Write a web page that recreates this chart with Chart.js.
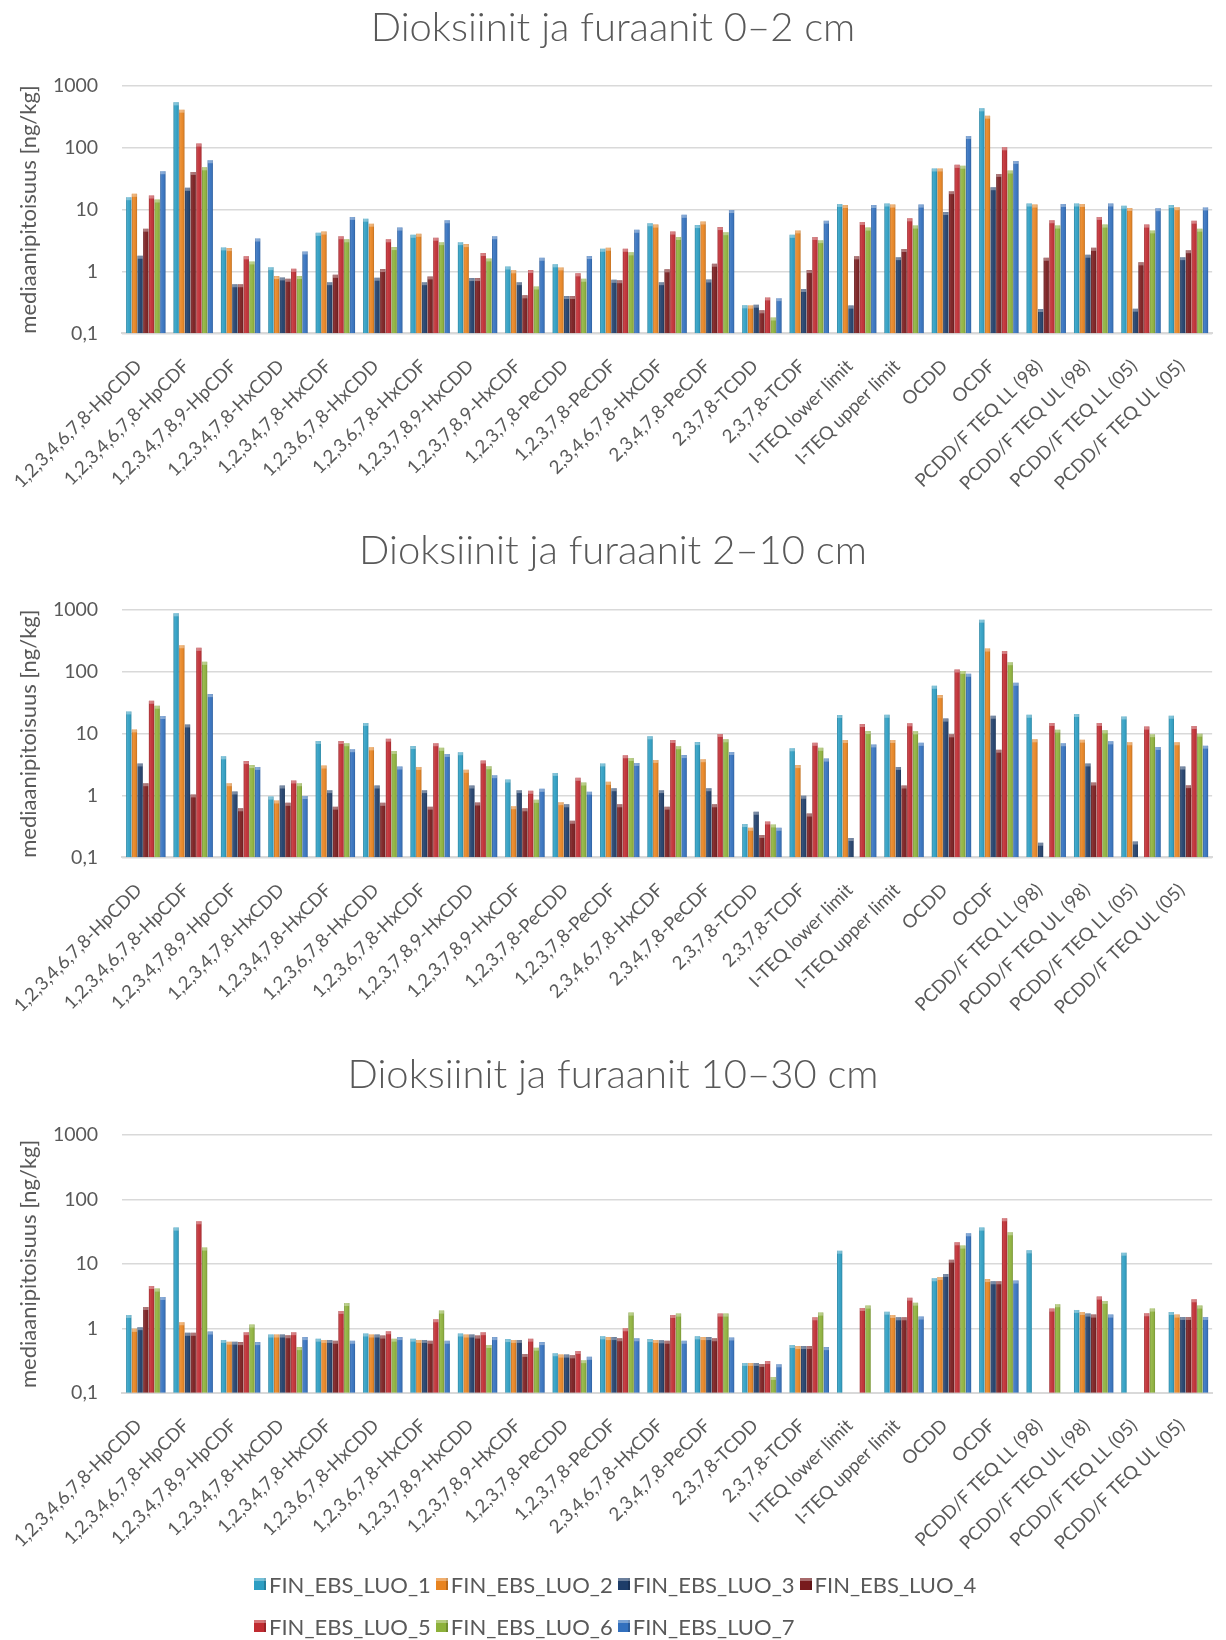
<!DOCTYPE html>
<html>
<head>
<meta charset="utf-8">
<script src="https://cdn.jsdelivr.net/npm/chart.js@4.4.0/dist/chart.umd.min.js"></script>
<style>
  html, body { margin: 0; padding: 0; background: #ffffff; }
  body { width: 1226px; height: 1640px; position: relative; overflow: hidden; font-family: Lato, "Open Sans", sans-serif; }
  canvas { position: absolute; left: 0; }
  #legend { position: absolute; left: 254px; top: 1563px; width: 800px; color: #595959; font-size: 22px; }
  .row { display: flex; height: 42px; align-items: center; }
  .item { display: flex; align-items: center; margin-right: 5px; white-space: nowrap; }
  .sw { width: 12px; height: 12px; margin-right: 3px; box-shadow: inset 0 3px 0 rgba(255,255,255,0.35), inset -2px 0 0 rgba(0,0,0,0.2); }
</style>
</head>
<body>
<canvas id="c1" width="1226" height="523" style="top:0px"></canvas>
<canvas id="c2" width="1226" height="524" style="top:523px"></canvas>
<canvas id="c3" width="1226" height="518" style="top:1047px"></canvas>
<div id="legend"></div>
<script>
// Congener / TEQ categories on the x axis
const categories = [
  '1,2,3,4,6,7,8-HpCDD', '1,2,3,4,6,7,8-HpCDF', '1,2,3,4,7,8,9-HpCDF', '1,2,3,4,7,8-HxCDD',
  '1,2,3,4,7,8-HxCDF', '1,2,3,6,7,8-HxCDD', '1,2,3,6,7,8-HxCDF', '1,2,3,7,8,9-HxCDD',
  '1,2,3,7,8,9-HxCDF', '1,2,3,7,8-PeCDD', '1,2,3,7,8-PeCDF', '2,3,4,6,7,8-HxCDF',
  '2,3,4,7,8-PeCDF', '2,3,7,8-TCDD', '2,3,7,8-TCDF', 'I-TEQ lower limit', 'I-TEQ upper limit',
  'OCDD', 'OCDF', 'PCDD/F TEQ LL (98)', 'PCDD/F TEQ UL (98)', 'PCDD/F TEQ LL (05)', 'PCDD/F TEQ UL (05)'
];

const seriesNames = ['FIN_EBS_LUO_1', 'FIN_EBS_LUO_2', 'FIN_EBS_LUO_3', 'FIN_EBS_LUO_4',
                     'FIN_EBS_LUO_5', 'FIN_EBS_LUO_6', 'FIN_EBS_LUO_7'];
const seriesColors = ['#2C9EC3', '#E8831F', '#1E3D69', '#781B1D', '#C02B31', '#8DB13A', '#3270BE'];

const yTickValues = [0.1, 1, 10, 100, 1000];
const yTickLabels = ['0,1', '1', '10', '100', '1000'];

// Median concentrations, depth 0–2 cm (ng/kg)
const d0_2_luo1 = [15.8, 538, 2.44, 1.17, 4.2, 7.1, 3.9, 2.97, 1.2, 1.3, 2.32, 6.0, 5.6, 0.283, 3.9, 12.3, 12.5, 46, 431, 12.5, 12.5, 11.5, 11.8];
const d0_2_luo2 = [17.9, 410, 2.38, 0.84, 4.4, 5.9, 4.05, 2.76, 1.04, 1.16, 2.41, 5.7, 6.4, 0.28, 4.6, 11.8, 12.0, 46, 328, 12.0, 12.3, 10.6, 10.9];
const d0_2_luo3 = [1.79, 22.4, 0.62, 0.80, 0.67, 0.79, 0.67, 0.78, 0.67, 0.40, 0.73, 0.67, 0.74, 0.29, 0.52, 0.28, 1.7, 9.1, 22.9, 0.247, 1.86, 0.25, 1.7];
const d0_2_luo4 = [4.9, 40.5, 0.62, 0.76, 0.88, 1.09, 0.83, 0.78, 0.41, 0.40, 0.72, 1.08, 1.33, 0.235, 1.05, 1.75, 2.3, 19.8, 37.6, 1.66, 2.4, 1.4, 2.2];
const d0_2_luo5 = [16.8, 116, 1.75, 1.1, 3.7, 3.3, 3.5, 1.98, 1.05, 0.93, 2.32, 4.4, 5.2, 0.38, 3.6, 6.3, 7.2, 52.6, 101, 6.7, 7.6, 5.7, 6.6];
const d0_2_luo6 = [14.5, 48, 1.45, 0.84, 3.3, 2.47, 2.97, 1.62, 0.57, 0.76, 2.03, 3.6, 4.3, 0.18, 3.2, 5.1, 5.5, 51, 42.6, 5.5, 5.7, 4.6, 4.9];
const d0_2_luo7 = [41.5, 62.5, 3.4, 2.1, 7.6, 5.1, 6.7, 3.7, 1.66, 1.77, 4.7, 8.2, 9.8, 0.37, 6.6, 11.8, 12.0, 154, 61, 12.3, 12.5, 10.5, 10.8];

// Median concentrations, depth 2–10 cm (ng/kg)
const d2_10_luo1 = [22.9, 884, 4.3, 0.96, 7.6, 14.9, 6.3, 5.0, 1.81, 2.32, 3.3, 9.06, 7.3, 0.345, 5.8, 20, 20.2, 59.5, 698, 20.2, 20.8, 19, 19.5];
const d2_10_luo2 = [11.7, 269, 1.58, 0.83, 3.05, 6.0, 2.9, 2.6, 0.67, 0.78, 1.66, 3.76, 3.86, 0.30, 3.1, 7.9, 7.9, 42, 238, 8.1, 8.0, 7.25, 7.25];
const d2_10_luo3 = [3.3, 14.1, 1.16, 1.45, 1.22, 1.45, 1.22, 1.45, 1.22, 0.72, 1.31, 1.22, 1.31, 0.545, 0.99, 0.205, 2.9, 17.5, 19.5, 0.172, 3.3, 0.18, 2.94];
const d2_10_luo4 = [1.58, 1.04, 0.62, 0.76, 0.66, 0.76, 0.66, 0.77, 0.62, 0.39, 0.72, 0.66, 0.72, 0.23, 0.51, null, 1.45, 9.75, 5.5, null, 1.62, null, 1.47];
const d2_10_luo5 = [34, 244, 3.6, 1.75, 7.6, 8.3, 7.0, 3.67, 1.19, 1.93, 4.47, 7.9, 9.9, 0.38, 7.1, 14.3, 14.7, 109, 218, 14.9, 14.9, 13, 13.3];
const d2_10_luo6 = [28.3, 145, 3.1, 1.58, 7.0, 5.25, 5.9, 2.97, 0.85, 1.62, 4.05, 6.25, 8.1, 0.34, 5.9, 11.0, 10.9, 103, 143, 11.6, 11.3, 9.8, 10];
const d2_10_luo7 = [19.3, 43.6, 2.9, 0.98, 5.6, 2.94, 4.7, 2.13, 1.28, 1.15, 3.36, 4.5, 5.06, 0.30, 3.95, 6.7, 7.1, 93, 66.5, 7.0, 7.5, 6.1, 6.4];

// Median concentrations, depth 10–30 cm (ng/kg)
const d10_30_luo1 = [1.61, 36.5, 0.66, 0.80, 0.69, 0.83, 0.69, 0.83, 0.68, 0.41, 0.75, 0.68, 0.75, 0.29, 0.55, 16.0, 1.81, 5.97, 36.5, 16.2, 1.93, 14.9, 1.79];
const d10_30_luo2 = [0.98, 1.24, 0.62, 0.80, 0.66, 0.80, 0.66, 0.80, 0.66, 0.39, 0.73, 0.66, 0.73, 0.29, 0.53, null, 1.61, 6.26, 5.8, null, 1.79, null, 1.63];
const d10_30_luo3 = [1.04, 0.85, 0.62, 0.80, 0.66, 0.80, 0.66, 0.80, 0.66, 0.39, 0.73, 0.65, 0.73, 0.29, 0.53, null, 1.48, 6.97, 5.36, null, 1.69, null, 1.50];
const d10_30_luo4 = [2.14, 0.85, 0.61, 0.78, 0.64, 0.77, 0.64, 0.77, 0.40, 0.38, 0.70, 0.64, 0.70, 0.28, 0.53, null, 1.48, 11.6, 5.36, null, 1.63, null, 1.50];
const d10_30_luo5 = [4.54, 45.8, 0.87, 0.87, 1.86, 0.90, 1.38, 0.87, 0.69, 0.445, 1.0, 1.61, 1.69, 0.31, 1.48, 2.07, 2.99, 21.6, 51, 2.02, 3.1, 1.71, 2.82];
const d10_30_luo6 = [4.13, 17.9, 1.14, 0.51, 2.47, 0.69, 1.88, 0.55, 0.50, 0.32, 1.75, 1.69, 1.69, 0.176, 1.75, 2.25, 2.5, 19.2, 30.9, 2.36, 2.66, 2.02, 2.25];
const d10_30_luo7 = [3.06, 0.89, 0.61, 0.73, 0.64, 0.73, 0.64, 0.73, 0.61, 0.36, 0.70, 0.64, 0.72, 0.276, 0.51, null, 1.52, 29.8, 5.5, null, 1.63, null, 1.50];

const TEXT = '#595959';
const GRID = '#D9D9D9';
const FONT = 'Lato, "Open Sans", sans-serif';

// Bevel-style shading on top of every drawn bar
const barShade = {
  id: 'barShade',
  afterDatasetDraw(chart, args) {
    const ctx = chart.ctx;
    const a = chart.chartArea;
    ctx.save();
    ctx.beginPath();
    ctx.rect(a.left, a.top, a.right - a.left, a.bottom - a.top);
    ctx.clip();
    args.meta.data.forEach(bar => {
      const p = bar.getProps(['x', 'y', 'base', 'width'], true);
      if (!isFinite(p.y) || !isFinite(p.base)) return;
      const l = p.x - p.width / 2;
      const h = p.base - p.y;
      if (h <= 0) return;
      const g = ctx.createLinearGradient(l, 0, l + p.width, 0);
      g.addColorStop(0, 'rgba(0,0,0,0.22)');
      g.addColorStop(0.25, 'rgba(255,255,255,0.12)');
      g.addColorStop(0.55, 'rgba(255,255,255,0.05)');
      g.addColorStop(1, 'rgba(0,0,0,0.18)');
      ctx.fillStyle = g;
      ctx.fillRect(l, p.y, p.width, h);
      ctx.fillStyle = 'rgba(255,255,255,0.35)';
      ctx.fillRect(l, p.y, p.width, Math.min(3, h));
    });
    ctx.restore();
  }
};

function makeChart(id, title, series, layout) {
  const datasets = series.map((vals, i) => ({
    label: seriesNames[i],
    data: vals,
    backgroundColor: seriesColors[i],
    borderWidth: 0,
    categoryPercentage: 0.84,
    barPercentage: 0.92
  }));
  return new Chart(document.getElementById(id), {
    type: 'bar',
    data: { labels: categories, datasets },
    plugins: [barShade],
    options: {
      responsive: false,
      animation: false,
      layout: { padding: 0 },
      plugins: {
        legend: { display: false },
        tooltip: { enabled: false },
        title: {
          display: true,
          text: title,
          color: TEXT,
          font: { family: FONT, size: 40, weight: 300, lineHeight: 1.2 },
          padding: { top: layout.titleTop, bottom: layout.titleBottom }
        }
      },
      scales: {
        x: {
          grid: { display: false, drawTicks: false },
          border: { display: true, color: GRID, width: 2 },
          ticks: {
            autoSkip: false, minRotation: 45, maxRotation: 45,
            color: TEXT, padding: 22, labelOffset: -7,
            font: { family: FONT, size: 18.5 }
          },
          afterFit(scale) { scale.height = layout.xHeight; }
        },
        y: {
          type: 'logarithmic',
          min: 0.1, max: 1000,
          grid: { color: GRID, lineWidth: 1.5, drawTicks: false },
          border: { display: false },
          afterBuildTicks(scale) { scale.ticks = yTickValues.map(v => ({ value: v })); },
          ticks: {
            color: TEXT, padding: 24,
            font: { family: FONT, size: 19.5 },
            callback(value) { const k = yTickValues.indexOf(value); return k >= 0 ? yTickLabels[k] : ''; }
          },
          title: {
            display: true, text: 'mediaanipitoisuus [ng/kg]', color: TEXT,
            font: { family: FONT, size: 22, lineHeight: 1.2 }, padding: { top: 10, bottom: 0 }
          },
          afterFit(scale) { scale.width = 116; }
        }
      }
    }
  });
}

makeChart('c1', 'Dioksiinit ja furaanit 0–2 cm',
  [d0_2_luo1, d0_2_luo2, d0_2_luo3, d0_2_luo4, d0_2_luo5, d0_2_luo6, d0_2_luo7],
  { titleTop: 4, titleBottom: 33.7, xHeight: 189.7 });
makeChart('c2', 'Dioksiinit ja furaanit 2–10 cm',
  [d2_10_luo1, d2_10_luo2, d2_10_luo3, d2_10_luo4, d2_10_luo5, d2_10_luo6, d2_10_luo7],
  { titleTop: 4, titleBottom: 35, xHeight: 189.7 });
makeChart('c3', 'Dioksiinit ja furaanit 10–30 cm',
  [d10_30_luo1, d10_30_luo2, d10_30_luo3, d10_30_luo4, d10_30_luo5, d10_30_luo6, d10_30_luo7],
  { titleTop: 4, titleBottom: 36, xHeight: 172.3 });

// Legend under the last chart: four entries on the first row, three on the second
const legend = document.getElementById('legend');
[[0, 1, 2, 3], [4, 5, 6]].forEach(rowIdx => {
  const row = document.createElement('div');
  row.className = 'row';
  rowIdx.forEach(i => {
    const item = document.createElement('div');
    item.className = 'item';
    const sw = document.createElement('span');
    sw.className = 'sw';
    sw.style.background = seriesColors[i];
    const t = document.createElement('span');
    t.textContent = seriesNames[i];
    item.appendChild(sw);
    item.appendChild(t);
    row.appendChild(item);
  });
  legend.appendChild(row);
});
</script>
</body>
</html>
